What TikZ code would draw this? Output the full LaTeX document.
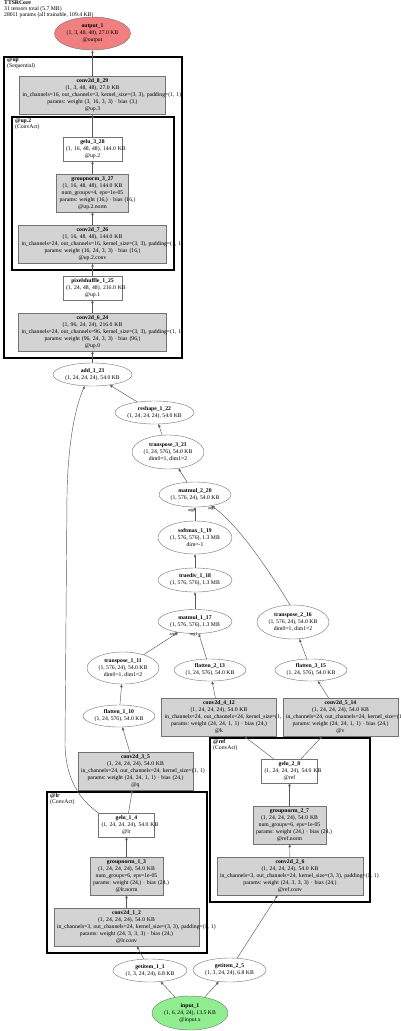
\documentclass[tikz,border=0pt]{standalone}
\usepackage{fontspec}
\setmainfont{Liberation Serif}
\usetikzlibrary{shapes.geometric,arrows.meta}
\definecolor{boxgray}{HTML}{D3D3D3}
\definecolor{outred}{HTML}{F08080}
\definecolor{ingreen}{HTML}{90EE90}
\frenchspacing
\tikzset{
 base/.style={font=\frenchspacing\fontsize{5.7}{7}\selectfont, align=center},
 gbox/.style={base, rectangle, draw=black!55, fill=boxgray, line width=0.4pt, inner xsep=3pt, inner ysep=0pt},
 wbox/.style={gbox, fill=white},
 oval/.style={base, ellipse, draw=black!55, line width=0.4pt, inner sep=0pt},
 cluster/.style={draw=black, line width=1.6pt},
 clabel/.style={font=\frenchspacing\fontsize{5.7}{6}\selectfont, align=left, anchor=north west, inner sep=0pt},
 edge/.style={draw=black!65, line width=0.45pt, -{Triangle[length=3pt,width=2.4pt]}},
 alabel/.style={font=\fontsize{4.5}{5}\selectfont, inner sep=0pt},
}
\begin{document}
\begin{tikzpicture}[x=1pt,y=-1pt]
\fill[white] (0,0) rectangle (400,1031);
\useasboundingbox (0,0) rectangle (400,1031);

% clusters
\draw[cluster] (4,57) rectangle (182,358);
\draw[cluster] (12,117) rectangle (174,270);
\draw[cluster] (47,792) rectangle (207,953);
\draw[cluster] (210,738) rectangle (370,902);

\node[clabel] (title) at (4,1) {\textbf{TTSRCore}\\31 tensors total (5.7 MB)\\28011 params (all trainable, 109.4 KB)};
\node[clabel] (lbl_up) at (7,57.5) {\textbf{@up}\\(Sequential)};
\node[clabel] (lbl_up2) at (15,118.5) {\textbf{@up.2}\\(ConvAct)};
\node[clabel] (lbl_ref) at (213,739.5) {\textbf{@ref}\\(ConvAct)};
\node[clabel] (lbl_lr) at (50,793.5) {\textbf{@lr}\\(ConvAct)};

% top nodes
\node[oval, fill=outred, minimum width=76pt, minimum height=33pt] (output_1) at (92.5,33.5) {\textbf{output\_1}\\(1, 3, 48, 48), 27.0 KB\\@output};
\node[gbox, text width=140pt, minimum height=38pt] (conv2d_8_29) at (92.5,95.5) {\textbf{conv2d\_8\_29}\\(1, 3, 48, 48), 27.0 KB\\\mbox{in\_channels=16, out\_channels=3, kernel\_size=(3, 3), padding=(1, 1)}\\params: weight (3, 16, 3, 3) · bias (3,)\\@up.3};
\node[wbox, text width=53pt, minimum height=24pt] (gelu_3_28) at (92.5,149) {\textbf{gelu\_3\_28}\\\mbox{(1, 16, 48, 48), 144.0 KB}\\@up.2};
\node[gbox, text width=66pt, minimum height=38pt] (groupnorm_3_27) at (92.5,193) {\textbf{groupnorm\_3\_27}\\\mbox{(1, 16, 48, 48), 144.0 KB}\\\mbox{num\_groups=4, eps=1e-05}\\\mbox{params: weight (16,) · bias (16,)}\\@up.2.norm};
\node[gbox, text width=142pt, minimum height=38pt] (conv2d_7_26) at (92.5,244.5) {\textbf{conv2d\_7\_26}\\(1, 16, 48, 48), 144.0 KB\\\mbox{in\_channels=24, out\_channels=16, kernel\_size=(3, 3), padding=(1, 1)}\\params: weight (16, 24, 3, 3) · bias (16,)\\@up.2.conv};
\node[wbox, text width=53pt, minimum height=24pt] (pixelshuffle_1_25) at (92.5,288) {\textbf{pixelshuffle\_1\_25}\\\mbox{(1, 24, 48, 48), 216.0 KB}\\@up.1};
\node[gbox, text width=142pt, minimum height=38pt] (conv2d_6_24) at (92.5,332) {\textbf{conv2d\_6\_24}\\(1, 96, 24, 24), 216.0 KB\\\mbox{in\_channels=24, out\_channels=96, kernel\_size=(3, 3), padding=(1, 1)}\\params: weight (96, 24, 3, 3) · bias (96,)\\@up.0};

% attention ellipses
\node[oval, minimum width=79pt, minimum height=23pt] (add_1_23) at (92.5,374.5) {\textbf{add\_1\_23}\\(1, 24, 24, 24), 54.0 KB};
\node[oval, minimum width=79pt, minimum height=23pt] (reshape_1_22) at (154.5,412.5) {\textbf{reshape\_1\_22}\\(1, 24, 24, 24), 54.0 KB};
\node[oval, minimum width=72pt, minimum height=34pt] (transpose_3_21) at (168,452) {\textbf{transpose\_3\_21}\\(1, 24, 576), 54.0 KB\\dim0=1, dim1=2};
\node[oval, minimum width=72pt, minimum height=25pt] (matmul_2_20) at (195,494.5) {\textbf{matmul\_2\_20}\\(1, 576, 24), 54.0 KB};
\node[oval, minimum width=74pt, minimum height=33pt] (softmax_1_19) at (195,537.5) {\textbf{softmax\_1\_19}\\(1, 576, 576), 1.3 MB\\dim=-1};
\node[oval, minimum width=74pt, minimum height=24pt] (truediv_1_18) at (195,580) {\textbf{truediv\_1\_18}\\(1, 576, 576), 1.3 MB};
\node[oval, minimum width=74pt, minimum height=24pt] (matmul_1_17) at (195,621.5) {\textbf{matmul\_1\_17}\\(1, 576, 576), 1.3 MB};
\node[oval, minimum width=72pt, minimum height=34pt] (transpose_2_16) at (293,622) {\textbf{transpose\_2\_16}\\(1, 576, 24), 54.0 KB\\dim0=1, dim1=2};
\node[oval, minimum width=72pt, minimum height=32pt] (transpose_1_11) at (123,668) {\textbf{transpose\_1\_11}\\(1, 576, 24), 54.0 KB\\dim0=1, dim1=2};
\node[oval, minimum width=72pt, minimum height=22pt] (flatten_2_13) at (210,670) {\textbf{flatten\_2\_13}\\(1, 24, 576), 54.0 KB};
\node[oval, minimum width=72pt, minimum height=22pt] (flatten_3_15) at (311,670) {\textbf{flatten\_3\_15}\\(1, 24, 576), 54.0 KB};
\node[oval, minimum width=72pt, minimum height=22pt] (flatten_1_10) at (119,716) {\textbf{flatten\_1\_10}\\(1, 24, 576), 54.0 KB};

% q k v convs
\node[gbox, text width=109pt, minimum height=38pt] (conv2d_4_12) at (219,717) {\textbf{conv2d\_4\_12}\\(1, 24, 24, 24), 54.0 KB\\\mbox{in\_channels=24, out\_channels=24, kernel\_size=(1, 1)}\\params: weight (24, 24, 1, 1) · bias (24,)\\@k};
\node[gbox, text width=109pt, minimum height=38pt] (conv2d_5_14) at (340.5,717) {\textbf{conv2d\_5\_14}\\(1, 24, 24, 24), 54.0 KB\\\mbox{in\_channels=24, out\_channels=24, kernel\_size=(1, 1)}\\params: weight (24, 24, 1, 1) · bias (24,)\\@v};
\node[gbox, text width=109pt, minimum height=38pt] (conv2d_3_5) at (135.5,771) {\textbf{conv2d\_3\_5}\\(1, 24, 24, 24), 54.0 KB\\\mbox{in\_channels=24, out\_channels=24, kernel\_size=(1, 1)}\\params: weight (24, 24, 1, 1) · bias (24,)\\@q};

% lr
\node[wbox, text width=50pt, minimum height=24pt] (gelu_1_4) at (126.5,825) {\textbf{gelu\_1\_4}\\\mbox{(1, 24, 24, 24), 54.0 KB}\\@lr};
\node[gbox, text width=67pt, minimum height=38pt] (groupnorm_1_3) at (126.5,876) {\textbf{groupnorm\_1\_3}\\\mbox{(1, 24, 24, 24), 54.0 KB}\\\mbox{num\_groups=6, eps=1e-05}\\\mbox{params: weight (24,) · bias (24,)}\\@lr.norm};
\node[gbox, text width=139pt, minimum height=38pt] (conv2d_1_2) at (126.5,927) {\textbf{conv2d\_1\_2}\\(1, 24, 24, 24), 54.0 KB\\\mbox{in\_channels=3, out\_channels=24, kernel\_size=(3, 3), padding=(1, 1)}\\params: weight (24, 3, 3, 3) · bias (24,)\\@lr.conv};

% ref
\node[wbox, text width=50pt, minimum height=24pt] (gelu_2_8) at (289.5,771) {\textbf{gelu\_2\_8}\\\mbox{(1, 24, 24, 24), 54.0 KB}\\@ref};
\node[gbox, text width=67pt, minimum height=38pt] (groupnorm_2_7) at (289.5,825) {\textbf{groupnorm\_2\_7}\\\mbox{(1, 24, 24, 24), 54.0 KB}\\\mbox{num\_groups=6, eps=1e-05}\\\mbox{params: weight (24,) · bias (24,)}\\@ref.norm};
\node[gbox, text width=140pt, minimum height=38pt] (conv2d_2_6) at (290,876) {\textbf{conv2d\_2\_6}\\(1, 24, 24, 24), 54.0 KB\\\mbox{in\_channels=3, out\_channels=24, kernel\_size=(3, 3), padding=(1, 1)}\\params: weight (24, 3, 3, 3) · bias (24,)\\@ref.conv};

% inputs
\node[oval, minimum width=74pt, minimum height=23pt] (getitem_1_1) at (150,970.5) {\textbf{getitem\_1\_1}\\(1, 3, 24, 24), 6.8 KB};
\node[oval, minimum width=73pt, minimum height=24pt] (getitem_2_5) at (229.5,970) {\textbf{getitem\_2\_5}\\(1, 3, 24, 24), 6.8 KB};
\node[oval, fill=ingreen, minimum width=76pt, minimum height=34pt] (input_1) at (190,1013) {\textbf{input\_1}\\(1, 6, 24, 24), 13.5 KB\\@input.x};

% edge labels
\node[alabel] (m2_arg0) at (192,510) {arg0};
\node[alabel] (m2_arg1) at (212,508.5) {arg1};
\node[alabel] (m1_arg0) at (173.5,634.5) {arg0};
\node[alabel] (m1_arg1) at (194,634.5) {arg1};

% edges
\draw[edge] (input_1) -- (getitem_1_1);
\draw[edge] (input_1) -- (getitem_2_5);
\draw[edge] (getitem_1_1) -- (conv2d_1_2);
\draw[edge] (getitem_2_5) -- (conv2d_2_6);
\draw[edge] (conv2d_1_2) -- (groupnorm_1_3);
\draw[edge] (groupnorm_1_3) -- (gelu_1_4);
\draw[edge] (conv2d_2_6) -- (groupnorm_2_7);
\draw[edge] (groupnorm_2_7) -- (gelu_2_8);
\draw[edge] (gelu_1_4) -- (conv2d_3_5);
\draw[edge] (gelu_2_8) -- (conv2d_4_12);
\draw[edge] (gelu_2_8) -- (conv2d_5_14);
\draw[edge] (conv2d_3_5) -- (flatten_1_10);
\draw[edge] (conv2d_4_12) -- (flatten_2_13);
\draw[edge] (conv2d_5_14) -- (flatten_3_15);
\draw[edge] (flatten_1_10) -- (transpose_1_11);
\draw[edge] (flatten_3_15) -- (transpose_2_16);
\draw[edge] (transpose_1_11) -- (matmul_1_17);
\draw[edge] (flatten_2_13) -- (matmul_1_17);
\draw[edge] (matmul_1_17) -- (truediv_1_18);
\draw[edge] (truediv_1_18) -- (softmax_1_19);
\draw[edge] (softmax_1_19) -- (matmul_2_20);
\draw[edge] (transpose_2_16.100) .. controls (278,585) and (240,525) .. (matmul_2_20.-35);
\draw[edge] (matmul_2_20) -- (transpose_3_21);
\draw[edge] (transpose_3_21) -- (reshape_1_22);
\draw[edge] (reshape_1_22) -- (add_1_23);
\draw[edge] (gelu_1_4.north west) .. controls (80,800) and (66,780) .. (65,745) -- (67,495) .. controls (68,440) and (76,405) .. (add_1_23.236);
\draw[edge] (add_1_23) -- (conv2d_6_24);
\draw[edge] (conv2d_6_24) -- (pixelshuffle_1_25);
\draw[edge] (pixelshuffle_1_25) -- (conv2d_7_26);
\draw[edge] (conv2d_7_26) -- (groupnorm_3_27);
\draw[edge] (groupnorm_3_27) -- (gelu_3_28);
\draw[edge] (gelu_3_28) -- (conv2d_8_29);
\draw[edge] (conv2d_8_29) -- (output_1);
\end{tikzpicture}
\end{document}
